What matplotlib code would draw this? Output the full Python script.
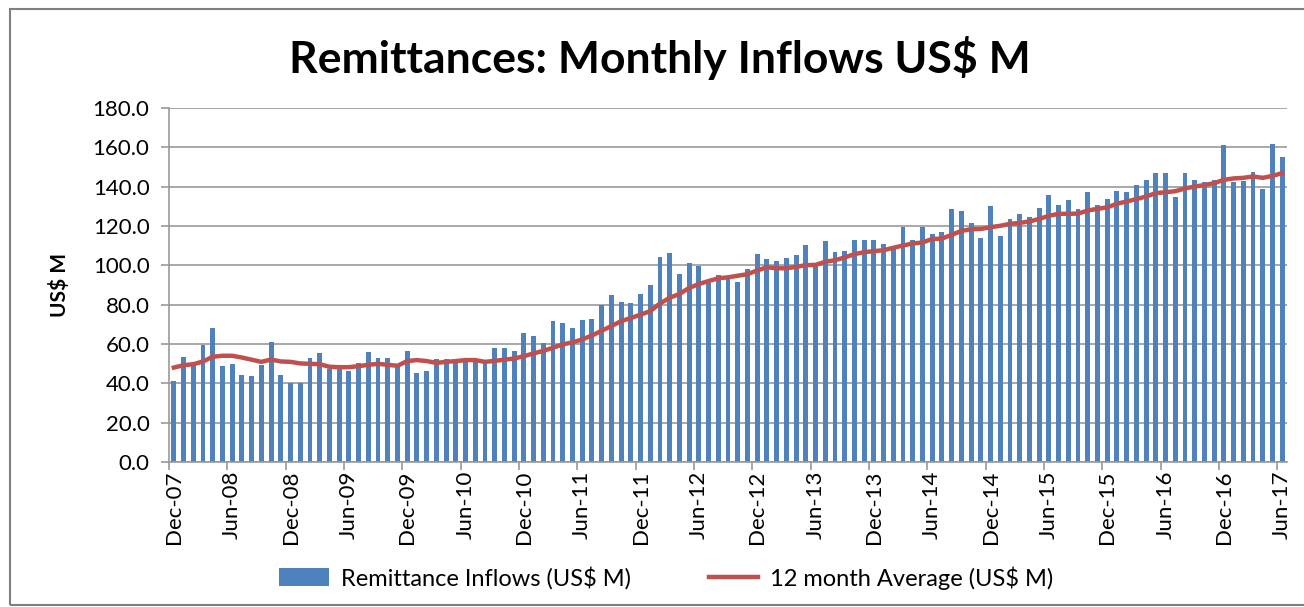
import matplotlib
matplotlib.use("Agg")
import matplotlib.pyplot as plt
from matplotlib.patches import Rectangle
from matplotlib.ticker import FixedLocator

plt.rcParams["font.family"] = ["Lato", "DejaVu Sans"]

# monthly inflows, Dec-07 .. Jun-17 (US$ M)
inflows = [
    41.3, 53.6, 50.0, 59.6, 67.9, 48.6, 49.7, 44.1, 43.5, 49.2,
    61.1, 44.1, 39.9, 39.9, 53.1, 55.3, 47.5, 47.2, 46.3, 50.3,
    56.0, 53.1, 53.1, 49.0, 56.5, 45.2, 46.3, 52.5, 52.5, 50.6,
    52.3, 51.4, 50.6, 58.2, 58.2, 56.5, 65.7, 64.0, 60.7, 71.6,
    70.5, 68.3, 72.2, 72.8, 79.8, 84.7, 81.3, 80.8, 85.4, 89.8,
    104.1, 106.5, 95.6, 101.4, 99.7, 91.0, 94.9, 93.2, 91.5, 97.9,
    105.7, 103.0, 102.3, 103.5, 105.2, 110.3, 100.0, 112.6, 106.9, 107.5,
    113.1, 113.1, 113.1, 110.8, 109.0, 119.6, 113.1, 119.6, 116.0, 117.2,
    128.7, 127.5, 121.3, 114.0, 130.4, 115.0, 123.6, 126.3, 124.7, 129.1,
    136.0, 130.9, 133.3, 128.7, 137.2, 130.9, 133.6, 137.9, 137.2, 141.1,
    143.3, 146.9, 146.9, 135.0, 146.9, 143.3, 142.5, 143.3, 161.2, 142.3,
    143.0, 147.4, 138.9, 161.7, 154.9,
]

# 12 month average line (US$ M)
avg12 = [
    48.0, 49.2, 49.7, 51.1, 53.5, 54.0, 54.0, 53.1, 52.0, 50.9,
    52.1, 51.1, 50.9, 50.1, 49.9, 49.7, 48.4, 48.2, 48.2, 48.7,
    49.4, 49.9, 49.4, 48.9, 51.3, 51.8, 51.3, 50.4, 50.9, 51.3,
    51.8, 51.8, 50.9, 51.4, 52.0, 52.6, 53.8, 55.2, 56.5, 58.1,
    59.8, 60.8, 62.3, 64.3, 66.7, 69.1, 71.6, 73.2, 74.9, 76.7,
    80.6, 83.5, 85.4, 88.5, 90.5, 92.0, 93.4, 93.9, 94.7, 95.5,
    97.4, 99.0, 98.5, 98.5, 99.2, 100.1, 100.2, 101.8, 102.6, 104.0,
    105.7, 106.7, 107.2, 107.7, 108.9, 110.1, 111.1, 111.6, 113.4, 113.6,
    115.5, 117.5, 118.4, 118.5, 119.4, 120.1, 121.1, 121.6, 122.3, 123.6,
    125.2, 126.2, 126.2, 126.3, 127.9, 128.7, 129.5, 131.3, 132.5, 133.7,
    135.0, 136.7, 137.2, 137.7, 139.1, 140.1, 140.8, 141.8, 143.5, 144.2,
    144.5, 145.2, 144.5, 145.5, 146.9,
]

tick_labels = [
    "Dec-07", "Jun-08", "Dec-08", "Jun-09", "Dec-09", "Jun-10", "Dec-10",
    "Jun-11", "Dec-11", "Jun-12", "Dec-12", "Jun-13", "Dec-13", "Jun-14",
    "Dec-14", "Jun-15", "Dec-15", "Jun-16", "Dec-16", "Jun-17",
]

BLUE = "#4F81BD"
RED = "#C0504D"
GRID = "#9a9a9a"

x = list(range(len(inflows)))
label_pos = x[::6]

fig = plt.figure(figsize=(13.04, 6.07), dpi=100)
ax = fig.add_axes([0.1296, 0.239, 0.8574, 0.583])

bars = ax.bar(x, inflows, width=0.5, color=BLUE, zorder=2)
line, = ax.plot(x, avg12, color=RED, lw=3.2, zorder=3)

ax.set_xlim(-0.5, len(inflows) - 0.5)
ax.set_ylim(0, 180)
ax.set_yticks(range(0, 181, 20))
ax.set_yticklabels([f"{v:.1f}" for v in range(0, 181, 20)], fontsize=16)
ax.yaxis.grid(True, color=GRID, lw=1.2, zorder=0)
ax.set_axisbelow(True)

ax.set_xticks(label_pos)
ax.set_xticklabels(tick_labels, rotation=90, fontsize=16)
ax.xaxis.set_minor_locator(FixedLocator([p - 0.5 for p in label_pos]))
ax.tick_params(axis="x", which="major", length=0, pad=6)
ax.tick_params(axis="x", which="minor", length=6, color=GRID, width=1.2)
ax.tick_params(axis="y", length=6, color=GRID, width=1.2, pad=8)

for side in ["top", "right"]:
    ax.spines[side].set_visible(False)
for side in ["left", "bottom"]:
    ax.spines[side].set_color(GRID)
    ax.spines[side].set_linewidth(1.2)

ax.set_ylabel("US$ M", fontsize=15, fontweight="bold", labelpad=16)

fig.text(0.506, 0.905, "Remittances: Monthly Inflows US$ M", ha="center", va="center",
         fontsize=32, fontweight="bold")

fig.legend([bars, line], ["Remittance Inflows (US$ M)", "12 month Average (US$ M)"],
           loc="center", bbox_to_anchor=(0.511, 0.048), ncol=2, frameon=False,
           fontsize=17, handlelength=2.1, handleheight=0.8, columnspacing=3.3,
           handletextpad=0.5)

# chart border
fig.patches.append(Rectangle((10 / 1304, 2 / 607), 1.2, 1 - 11 / 607,
                             transform=fig.transFigure, fill=False,
                             edgecolor="#7f7f7f", lw=1.5))

fig.savefig("out.png", dpi=100)
